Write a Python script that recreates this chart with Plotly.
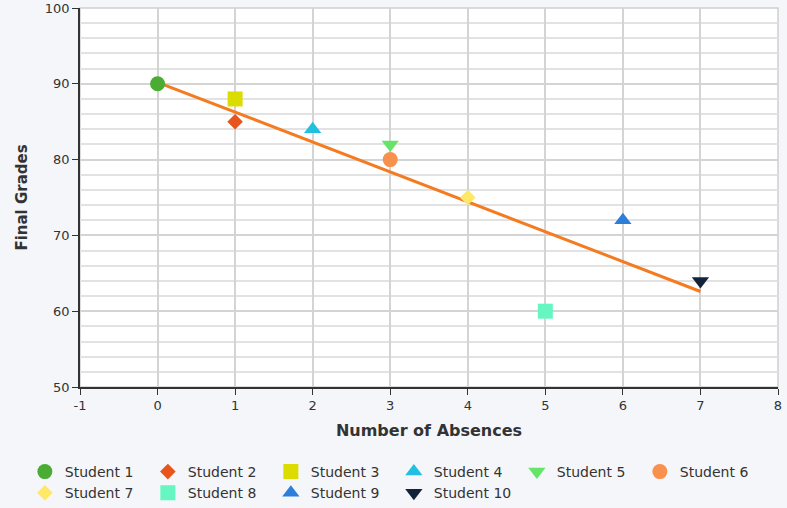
import plotly.graph_objects as go

# absences vs final grades, one point per student
students = [f"Student {i}" for i in range(1, 11)]
absences = [0, 1, 1, 2, 3, 3, 4, 5, 6, 7]
grades = [90, 85, 88, 84, 82, 80, 75, 60, 72, 64]

# trend line
trend_x = [0, 7]
trend_y = [90.2, 62.6]

x_ticks = [-1, 0, 1, 2, 3, 4, 5, 6, 7, 8]
x_labels = ["-1", "0", "1", "2", "3", "4", "5", "6", "7", "8"]
y_ticks = [50, 60, 70, 80, 90, 100]

_SYMBOLS = ["circle", "diamond", "square", "triangle-up", "triangle-down",
            "circle", "diamond", "square", "triangle-up", "triangle-down"]
_COLORS = ["#4aac32", "#e8541c", "#dcdc00", "#22c0e0", "#66e468",
           "#f8904e", "#ffe866", "#66f6c2", "#2c7ed8", "#13243a"]
_SIZES = [15, 12, 15, 15, 15, 15, 12, 15, 15, 15]
_FONT = "DejaVu Sans"

fig = go.Figure()
fig.add_trace(go.Scatter(
    x=trend_x, y=trend_y, mode="lines", showlegend=False,
    line=dict(color="#f47b20", width=3), hoverinfo="skip",
))
for name, x, y, sym, col, size in zip(students, absences, grades, _SYMBOLS, _COLORS, _SIZES):
    fig.add_trace(go.Scatter(
        x=[x], y=[y], mode="markers", name=name,
        marker=dict(symbol=sym, color=col, size=size, line=dict(width=0)),
    ))

fig.update_xaxes(
    range=[-1, 8], tickvals=x_ticks, ticktext=x_labels,
    ticks="outside", ticklen=6, tickcolor="#333",
    showline=True, linecolor="#333", linewidth=1.5, automargin=False,
    showgrid=True, gridcolor="#d4d4d4", gridwidth=1.5, zeroline=False,
    title=dict(text="<b>Number of Absences</b>", font=dict(size=16, color="#333"), standoff=12),
    tickfont=dict(size=13, color="#333"),
)
fig.update_yaxes(
    range=[50, 100], tickvals=y_ticks, ticks="outside", ticklen=6, tickcolor="#333",
    showline=True, linecolor="#333", linewidth=1.5, automargin=False,
    showgrid=True, gridcolor="#d4d4d4", gridwidth=1.5, zeroline=False,
    minor=dict(dtick=2, showgrid=True, gridcolor="#e2e2e2", gridwidth=1.5),
    title=dict(text="<b>Final Grades</b>", font=dict(size=15, color="#333"), standoff=14),
    tickfont=dict(size=13, color="#333"),
)
# light frame on the top and right of the plot area
fig.add_shape(type="rect", xref="paper", yref="paper", x0=0, x1=1, y0=0, y1=1,
              line=dict(color="#cfcfcf", width=1.5), layer="below")
# figure is a bit taller than the window so the legend's padding does not push the plot up
fig.update_layout(
    width=787, height=522,
    margin=dict(l=80, r=9, t=8, b=135),
    paper_bgcolor="#f5f6fa", plot_bgcolor="white",
    font=dict(family=_FONT, color="#333"),
    legend=dict(
        orientation="h", xref="paper", yref="paper",
        x=-0.079, y=-0.182, xanchor="left", yanchor="top",
        entrywidth=78, entrywidthmode="pixels",
        font=dict(size=14, color="#333"), tracegroupgap=0, itemsizing="trace",
        bgcolor="rgba(0,0,0,0)",
    ),
)

fig.write_html(
    "out.html", config={"displayModeBar": False},
    post_script="document.body.style.margin='0px';"
                "document.body.style.overflow='hidden';"
                "document.documentElement.style.overflow='hidden';",
)
